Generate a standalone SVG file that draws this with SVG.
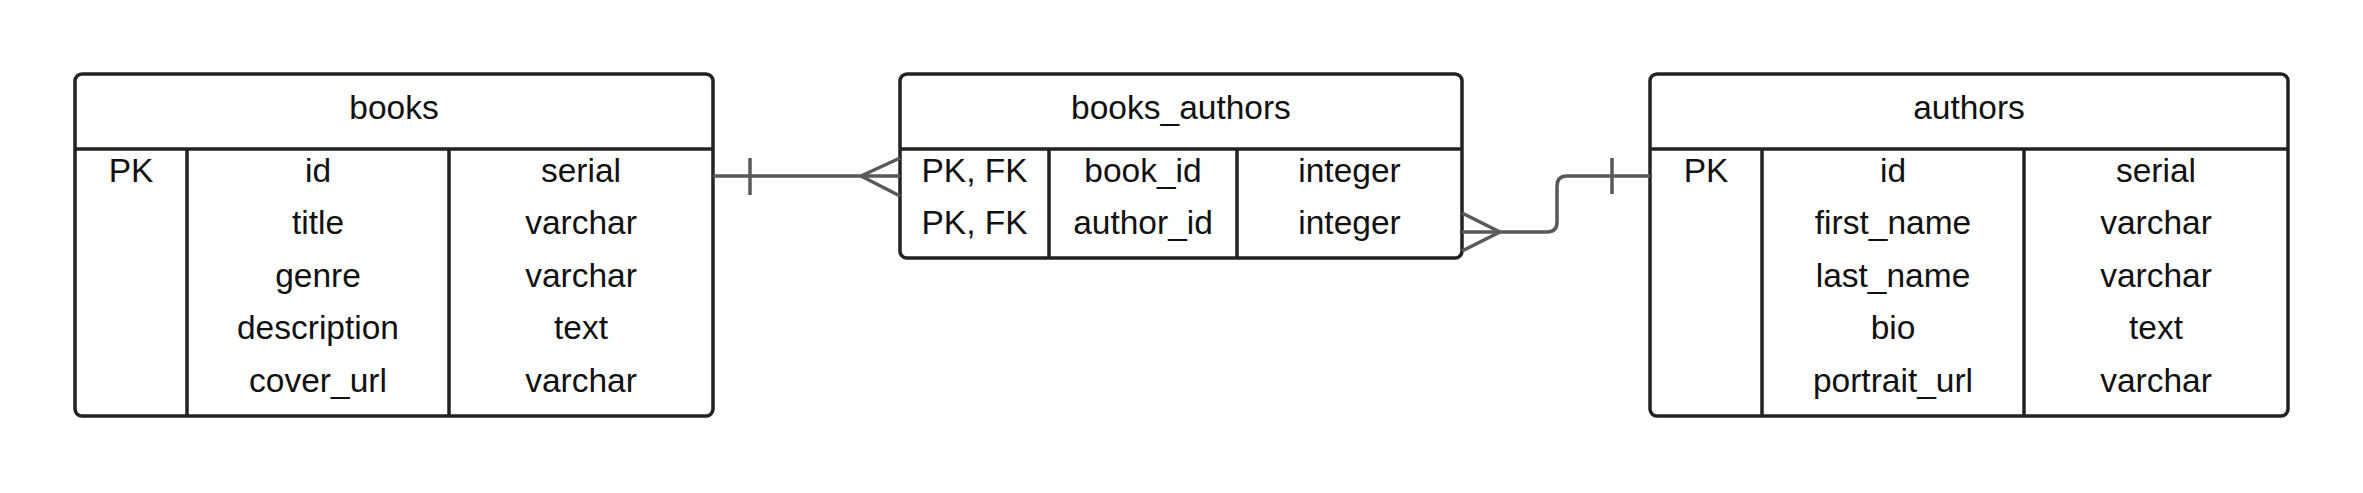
<svg xmlns="http://www.w3.org/2000/svg" width="2363" height="493" viewBox="0 0 2363 493">
<style>
.box{fill:#fff;stroke:#222;stroke-width:3.5}
.ln{stroke:#222;stroke-width:3.5;fill:none}
.t{font-family:"Liberation Sans",Arial,sans-serif;font-size:33.5px;fill:#111;text-anchor:middle}
.c{stroke:#595959;stroke-width:3.5;fill:none;stroke-linejoin:round}
</style>
<rect width="2363" height="493" fill="#fff"/>
<g id="books">
<rect class="box" x="75" y="74" width="638" height="342" rx="7"/>
<line class="ln" x1="75" y1="149" x2="713" y2="149"/>
<line class="ln" x1="187" y1="149" x2="187" y2="416"/>
<line class="ln" x1="449" y1="149" x2="449" y2="416"/>
<text class="t" x="394" y="119">books</text>
<text class="t" x="131" y="181.5">PK</text>
<text class="t" x="318" y="181.5">id</text>
<text class="t" x="581" y="181.5">serial</text>
<text class="t" x="318" y="234">title</text>
<text class="t" x="581" y="234">varchar</text>
<text class="t" x="318" y="286.5">genre</text>
<text class="t" x="581" y="286.5">varchar</text>
<text class="t" x="318" y="339">description</text>
<text class="t" x="581" y="339">text</text>
<text class="t" x="318" y="391.5">cover_url</text>
<text class="t" x="581" y="391.5">varchar</text>
</g>
<g id="books_authors">
<rect class="box" x="900" y="74" width="562" height="184" rx="7"/>
<line class="ln" x1="900" y1="149" x2="1462" y2="149"/>
<line class="ln" x1="1049" y1="149" x2="1049" y2="258"/>
<line class="ln" x1="1237" y1="149" x2="1237" y2="258"/>
<text class="t" x="1181" y="119">books_authors</text>
<text class="t" x="974.5" y="181.5">PK, FK</text>
<text class="t" x="1143" y="181.5">book_id</text>
<text class="t" x="1349.5" y="181.5">integer</text>
<text class="t" x="974.5" y="234">PK, FK</text>
<text class="t" x="1143" y="234">author_id</text>
<text class="t" x="1349.5" y="234">integer</text>
</g>
<g id="authors">
<rect class="box" x="1650" y="74" width="638" height="342" rx="7"/>
<line class="ln" x1="1650" y1="149" x2="2288" y2="149"/>
<line class="ln" x1="1762" y1="149" x2="1762" y2="416"/>
<line class="ln" x1="2024" y1="149" x2="2024" y2="416"/>
<text class="t" x="1969" y="119">authors</text>
<text class="t" x="1706" y="181.5">PK</text>
<text class="t" x="1893" y="181.5">id</text>
<text class="t" x="2156" y="181.5">serial</text>
<text class="t" x="1893" y="234">first_name</text>
<text class="t" x="2156" y="234">varchar</text>
<text class="t" x="1893" y="286.5">last_name</text>
<text class="t" x="2156" y="286.5">varchar</text>
<text class="t" x="1893" y="339">bio</text>
<text class="t" x="2156" y="339">text</text>
<text class="t" x="1893" y="391.5">portrait_url</text>
<text class="t" x="2156" y="391.5">varchar</text>
</g>
<g id="connectors">
<path class="c" d="M713 176H900"/>
<path class="c" d="M750 158V195"/>
<path class="c" d="M900 158L861 176L900 196"/>
<path class="c" d="M1462 232H1547Q1557 232 1557 222V186Q1557 176 1567 176H1650"/>
<path class="c" d="M1612 158V194"/>
<path class="c" d="M1462 213L1500 232L1462 251"/>
</g>
</svg>
